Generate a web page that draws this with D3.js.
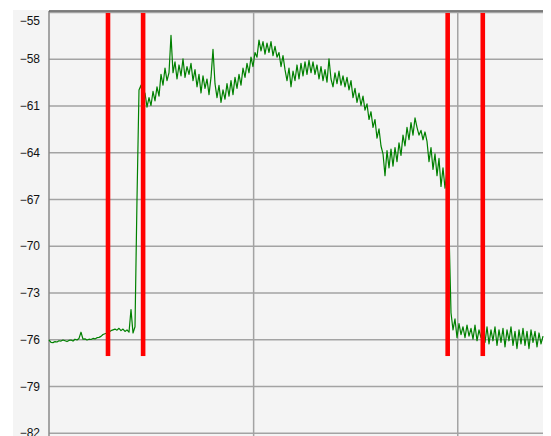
<!DOCTYPE html>
<html>
<head>
<meta charset="utf-8">
<script src="https://cdn.jsdelivr.net/npm/d3@7/dist/d3.min.js"></script>
<style>
  html, body { margin: 0; padding: 0; background: #ffffff; }
  svg { display: block; }
  .tick text { font-family: "Liberation Sans", Arial, sans-serif; font-size: 12px; fill: #111; }
</style>
</head>
<body>
<svg id="chart" width="551" height="436"></svg>
<script>
// Spectrum sweep, level in dBm (one reading per sweep bin, left to right)
const levels = [
  -76.05, -76.2, -76.22, -76.15, -76.18, -76.1, -76.12, -76.05, -76.1, -76.15,
  -76.08, -76.05, -76.12, -76.0, -76.05, -75.95, -75.55, -76.0, -75.98, -76.05,
  -76.0, -76.02, -75.95, -75.98, -75.9, -75.88,
  -75.82, -75.7, -75.65, -75.6, -75.55, -75.45, -75.4, -75.35, -75.42, -75.3,
  -75.45, -75.35, -75.5, -75.4, -75.55,
  -74.1, -75.6, -75.2, -67.0,
  -60.0, -59.7, -60.6, -60.2, -61.1, -60.5, -61.0, -60.1, -60.7, -59.8,
  -60.4, -59.0, -59.7, -58.6, -59.4, -58.9, -56.5, -58.9, -58.2, -59.3,
  -58.4, -59.1, -58.0, -59.2, -58.5, -59.0, -58.3, -59.4, -58.7, -59.8,
  -59.0, -60.2, -59.1, -59.9, -59.3, -60.3, -59.2, -57.4, -59.6, -60.5,
  -59.7, -60.8, -60.0, -60.6, -59.6, -60.4, -59.4, -60.3, -59.2, -59.9,
  -59.0, -59.7, -58.6, -59.2, -58.3, -58.9, -57.9, -58.5, -57.6, -57.9,
  -56.8, -57.5, -56.9, -57.7, -57.0, -57.6, -56.9, -57.8, -57.2, -57.9,
  -57.6, -58.5, -57.8, -58.7, -59.4, -58.6, -59.8, -58.8, -59.4, -58.4,
  -59.3, -58.3, -59.1, -58.2, -59.0, -58.1, -58.9, -58.2, -59.0, -58.4,
  -59.3, -58.5, -59.4, -58.7, -59.5, -58.0, -59.3, -59.8, -58.9, -59.6,
  -58.8, -59.7, -59.1, -59.8, -59.2, -60.0, -59.4, -60.5, -59.9, -60.8,
  -60.2, -61.0, -60.4, -61.3, -60.9, -61.9, -61.4, -62.4, -61.9, -63.1,
  -62.5, -63.6, -64.1, -65.5, -63.9, -65.0, -63.8, -64.9, -63.7, -64.6,
  -63.4, -64.2, -62.9, -63.6, -62.4, -63.2, -62.1, -62.9, -61.8, -62.4,
  -62.9, -62.6, -63.2, -62.7, -63.3, -64.6, -63.7, -65.1, -64.1, -65.5,
  -64.4, -66.2, -65.0, -66.3, -65.2, -69.0,
  -74.3, -75.4, -74.7, -75.9, -75.0, -75.7, -75.2, -75.9, -75.1, -75.8,
  -75.3, -76.0, -75.1, -76.1, -75.4, -75.9, -75.3, -76.2, -75.2, -76.3,
  -75.4, -76.1, -75.2, -76.4, -75.4, -76.2, -75.3, -76.5, -75.4, -76.1,
  -75.2, -76.4, -75.5, -76.6, -75.4, -76.3, -75.3, -76.4, -75.5, -76.6,
  -75.4, -76.2, -75.5, -76.5, -75.6, -76.3, -75.8
];

// Sweep span in MHz
const freqStart = 2400;
const freqStop = 2424.2;

// Vertical grid positions (MHz)
const freqGrid = [2410, 2420];

// Marker lines: frequency (MHz) and the level span they cover (dBm)
const markerFreqs = [2402.89, 2404.61, 2419.53, 2421.25];
const markerSpan = [-55.06, -77.08];

// Level axis ticks (dBm)
const levelTicks = [-55, -58, -61, -64, -67, -70, -73, -76, -79, -82];

const svg = d3.select("#chart");
const plot = { left: 49, right: 543, top: 12, bottom: 432.7 };

// panel background
svg.append("rect")
  .attr("x", 13).attr("y", 10)
  .attr("width", plot.right - 13).attr("height", 436 - 10)
  .attr("fill", "#f4f4f4");

const x = d3.scaleLinear().domain([freqStart, freqStop]).range([plot.left, plot.right]);
const y = d3.scaleLinear().domain([levelTicks[0], levelTicks[levelTicks.length - 1]]).range([plot.top, plot.bottom]);
const binFreq = d3.scaleLinear().domain([0, levels.length - 1]).range([freqStart, freqStop]);

// horizontal grid + level labels
const yAxis = svg.append("g")
  .attr("transform", `translate(${plot.left},0)`)
  .call(d3.axisLeft(y)
    .tickValues(levelTicks)
    .tickSizeInner(-(plot.right - plot.left))
    .tickSizeOuter(0)
    .tickPadding(9)
    .tickFormat(d3.format("d")));
yAxis.select(".domain").remove();
yAxis.selectAll(".tick line").attr("stroke", "#a3a3a3").attr("stroke-width", 1.5);
yAxis.selectAll(".tick text")
  .attr("dy", d => d === levelTicks[0] ? "1.05em" : "0.34em")
  .style("font-family", "'Liberation Sans', Arial, sans-serif")
  .style("font-size", "12px");

// vertical grid
const xAxis = svg.append("g")
  .attr("transform", `translate(0,${plot.top})`)
  .call(d3.axisBottom(x)
    .tickValues(freqGrid)
    .tickSizeInner(436 - plot.top)
    .tickSizeOuter(0)
    .tickFormat(""));
xAxis.select(".domain").remove();
xAxis.selectAll(".tick line").attr("stroke", "#a3a3a3").attr("stroke-width", 1.5);

// frame: left axis and top edge
svg.append("line")
  .attr("x1", plot.left).attr("x2", plot.left)
  .attr("y1", 11).attr("y2", 436)
  .attr("stroke", "#8a8a8a").attr("stroke-width", 1.5);
svg.append("line")
  .attr("x1", plot.left).attr("x2", plot.right)
  .attr("y1", 11).attr("y2", 11)
  .attr("stroke", "#5a5a5a").attr("stroke-width", 1.5);

// trace
const line = d3.line()
  .x((d, i) => x(binFreq(i)))
  .y(d => y(d));
svg.append("path")
  .datum(levels)
  .attr("d", line)
  .attr("fill", "none")
  .attr("stroke", "#008000")
  .attr("stroke-width", 1.2)
  .attr("stroke-linejoin", "round");

// markers
svg.selectAll("rect.marker")
  .data(markerFreqs)
  .join("rect")
  .attr("class", "marker")
  .attr("x", d => x(d) - 2.3)
  .attr("width", 4.6)
  .attr("y", y(markerSpan[0]))
  .attr("height", y(markerSpan[1]) - y(markerSpan[0]))
  .attr("fill", "#ff0000");
</script>
</body>
</html>
